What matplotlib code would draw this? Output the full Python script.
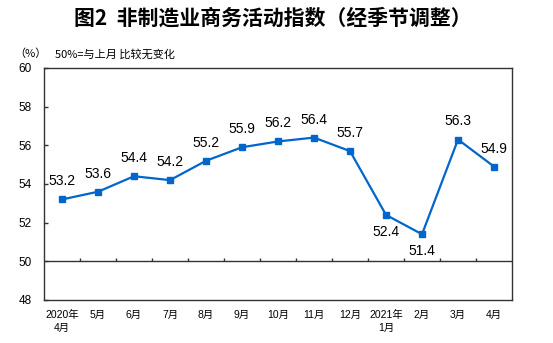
import matplotlib
matplotlib.use("Agg")
import matplotlib.pyplot as plt

# Non-manufacturing business activity index, seasonally adjusted
months = ["2020年\n4月", "5月", "6月", "7月", "8月", "9月", "10月", "11月", "12月",
          "2021年\n1月", "2月", "3月", "4月"]
values = [53.2, 53.6, 54.4, 54.2, 55.2, 55.9, 56.2, 56.4, 55.7, 52.4, 51.4, 56.3, 54.9]
below_labels = [9, 10]  # points whose value label sits under the marker

LINE_COLOR = "#0066CC"
AXIS_COLOR = "#333333"
SANS = ["Liberation Sans", "Noto Sans CJK SC"]
CJK = ["Noto Sans CJK SC", "DejaVu Sans"]

fig = plt.figure(figsize=(5.53, 3.43), dpi=100)
ax = fig.add_axes([0.0796, 0.1254, 0.8463, 0.6764])

x = list(range(len(values)))
ax.plot(x, values, color=LINE_COLOR, lw=1.6, marker="s", ms=4.5, zorder=3)

for i, v in enumerate(values):
    if i in below_labels:
        ax.annotate(f"{v:.1f}", (i, v), xytext=(0, -12), textcoords="offset points",
                    ha="center", va="center", fontsize=10, family=SANS)
    else:
        ax.annotate(f"{v:.1f}", (i, v), xytext=(0, 13), textcoords="offset points",
                    ha="center", va="center", fontsize=10, family=SANS)

ax.set_xlim(-0.5, len(values) - 0.5)
ax.set_ylim(48, 60)

# reference line at 50 with small category separators on it
ax.axhline(50, color=AXIS_COLOR, lw=1.0, zorder=2)
bounds = [i + 0.5 for i in range(len(values) - 1)]
ax.vlines(bounds, 50, 50.17, color=AXIS_COLOR, lw=1.0, zorder=2)

ax.set_yticks(range(48, 61, 2))
ax.tick_params(axis="y", direction="in", length=3, width=1.0, color=AXIS_COLOR,
               pad=9, labelsize=8.5)
ax.set_xticks(x)
ax.set_xticklabels(months, fontsize=7.5, family=SANS, linespacing=1.45)
ax.tick_params(axis="x", length=0, pad=7)
for lbl in ax.get_yticklabels():
    lbl.set_family(SANS)

for s in ax.spines.values():
    s.set_color(AXIS_COLOR)
    s.set_linewidth(1.0)

fig.text(0.4937, 0.9475, "图2  非制造业商务活动指数（经季节调整）", ha="center", va="center",
         fontsize=15, fontweight="bold", family=CJK)
fig.text(30 / 553, 1 - 54 / 343, "（%）", ha="center", va="center", fontsize=8, family=CJK)
fig.text(55 / 553, 1 - 54 / 343, "50%=与上月 比较无变化", ha="left", va="center",
         fontsize=8, family=CJK)

fig.savefig("out.png", dpi=100)
